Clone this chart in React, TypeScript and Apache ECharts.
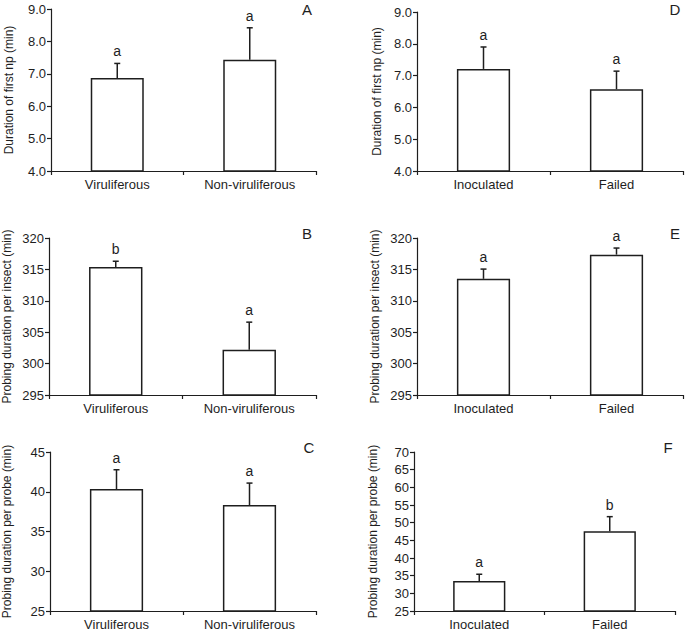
import React, { useEffect, useRef } from "react";
import * as echarts from "echarts";

const categoriesLeft = ["Viruliferous", "Non-viruliferous"];
const categoriesRight = ["Inoculated", "Failed"];

const meansA = [6.87, 7.43];
const seA = [0.45, 0.99];
const lettersA = ["a", "a"];

const meansD = [7.21, 6.57];
const seD = [0.69, 0.57];
const lettersD = ["a", "a"];

const meansB = [315.4, 302.2];
const seB = [0.9, 4.4];
const lettersB = ["b", "a"];

const meansE = [313.5, 317.35];
const seE = [1.55, 1.05];
const lettersE = ["a", "a"];

const meansC = [40.34, 38.32];
const seC = [2.43, 2.77];
const lettersC = ["a", "a"];

const meansF = [33.5, 47.6];
const seF = [1.9, 4.1];
const lettersF = ["a", "b"];

const yTitleFirstNp = "Duration of first np (min)";
const yTitleInsect = "Probing duration per insect (min)";
const yTitleProbe = "Probing duration per probe (min)";

const INK = "#1e1e1e";
const FONT = "Liberation Sans, Arial, sans-serif";

type Panel = {
  label: string;
  cats: string[];
  means: number[];
  se: number[];
  letters: string[];
  min: number;
  max: number;
  interval: number;
  decimals: number;
  title: string;
  grid: { left: number; top: number; width: number; height: number };
  nameGap: number;
};

const panels: Panel[] = [
  { label: "A", cats: categoriesLeft, means: meansA, se: seA, letters: lettersA, min: 4, max: 9, interval: 1, decimals: 1, title: yTitleFirstNp, grid: { left: 51, top: 9, width: 265, height: 162 }, nameGap: 36 },
  { label: "B", cats: categoriesLeft, means: meansB, se: seB, letters: lettersB, min: 295, max: 320, interval: 5, decimals: 0, title: yTitleInsect, grid: { left: 49, top: 238, width: 267, height: 157 }, nameGap: 36 },
  { label: "C", cats: categoriesLeft, means: meansC, se: seC, letters: lettersC, min: 25, max: 45, interval: 5, decimals: 0, title: yTitleProbe, grid: { left: 50, top: 452, width: 266, height: 159 }, nameGap: 37 },
  { label: "D", cats: categoriesRight, means: meansD, se: seD, letters: lettersD, min: 4, max: 9, interval: 1, decimals: 1, title: yTitleFirstNp, grid: { left: 417, top: 12, width: 266, height: 159 }, nameGap: 34 },
  { label: "E", cats: categoriesRight, means: meansE, se: seE, letters: lettersE, min: 295, max: 320, interval: 5, decimals: 0, title: yTitleInsect, grid: { left: 417, top: 238, width: 266, height: 157 }, nameGap: 36 },
  { label: "F", cats: categoriesRight, means: meansF, se: seF, letters: lettersF, min: 25, max: 70, interval: 5, decimals: 0, title: yTitleProbe, grid: { left: 414, top: 452, width: 261, height: 160 }, nameGap: 35 },
];

const panelLabelPos: Record<string, [number, number]> = {
  A: [307, 9],
  B: [307, 233],
  C: [309, 447],
  D: [675, 9],
  E: [675, 233],
  F: [668, 447],
};

export default function App() {
  const ref = useRef<HTMLDivElement>(null);
  useEffect(() => {
    if (!ref.current) return;
    const chart = echarts.init(ref.current, undefined, { renderer: "svg" });
    const grids: any[] = [];
    const xAxes: any[] = [];
    const yAxes: any[] = [];
    const series: any[] = [];
    const graphics: any[] = [];

    panels.forEach((p, i) => {
      grids.push({ ...p.grid, containLabel: false });
      xAxes.push({
        type: "category",
        gridIndex: i,
        data: p.cats,
        boundaryGap: true,
        axisLine: { show: true, lineStyle: { color: INK, width: 1.2 } },
        axisTick: { show: true, inside: false, length: 4, alignWithLabel: false, lineStyle: { color: INK, width: 1.2 } },
        axisLabel: { color: INK, fontSize: 13, fontFamily: FONT, margin: 7 },
        splitLine: { show: false },
      });
      yAxes.push({
        type: "value",
        gridIndex: i,
        min: p.min,
        max: p.max,
        interval: p.interval,
        name: p.title,
        nameLocation: "middle",
        nameGap: p.nameGap,
        nameTextStyle: { color: INK, fontSize: 12, fontFamily: FONT },
        axisLine: { show: true, lineStyle: { color: INK, width: 1.2 } },
        axisTick: { show: true, inside: false, length: 4, lineStyle: { color: INK, width: 1.2 } },
        axisLabel: {
          color: INK,
          fontSize: 13,
          fontFamily: FONT,
          margin: 5,
          formatter: (v: number) => v.toFixed(p.decimals),
        },
        splitLine: { show: false },
      });
      series.push({
        type: "bar",
        xAxisIndex: i,
        yAxisIndex: i,
        data: p.means,
        barWidth: "40%",
        itemStyle: { color: "#ffffff", borderColor: INK, borderWidth: 1.5 },
        silent: true,
      });
      series.push({
        type: "custom",
        xAxisIndex: i,
        yAxisIndex: i,
        data: p.means.map((m, k) => [k, m, m + p.se[k], p.letters[k]]),
        renderItem: (params: any, api: any) => {
          const k = api.value(0);
          const low = api.coord([k, api.value(1)]);
          const high = api.coord([k, api.value(2)]);
          const letter = p.letters[k];
          return {
            type: "group",
            children: [
              {
                type: "line",
                shape: { x1: low[0], y1: low[1], x2: high[0], y2: high[1] },
                style: { stroke: INK, lineWidth: 1.5 },
              },
              {
                type: "line",
                shape: { x1: high[0] - 3, y1: high[1], x2: high[0] + 3, y2: high[1] },
                style: { stroke: INK, lineWidth: 1.5 },
              },
              {
                type: "text",
                x: high[0],
                y: high[1] - 12,
                style: {
                  text: letter,
                  fill: INK,
                  fontSize: 14,
                  fontFamily: FONT,
                  align: "center",
                  verticalAlign: "middle",
                },
              },
            ],
          };
        },
        silent: true,
      });
      const pos = panelLabelPos[p.label];
      graphics.push({
        type: "text",
        x: pos[0],
        y: pos[1],
        style: {
          text: p.label,
          fill: INK,
          fontSize: 15,
          fontFamily: FONT,
          align: "center",
          verticalAlign: "middle",
        },
      });
    });

    chart.setOption({
      animation: false,
      backgroundColor: "#ffffff",
      grid: grids,
      xAxis: xAxes,
      yAxis: yAxes,
      series,
      graphic: graphics,
    });
    return () => chart.dispose();
  }, []);
  return (
    <div
      ref={ref}
      style={{ position: "fixed", left: 0, top: 0, width: 685, height: 631, background: "#fff" }}
    />
  );
}
